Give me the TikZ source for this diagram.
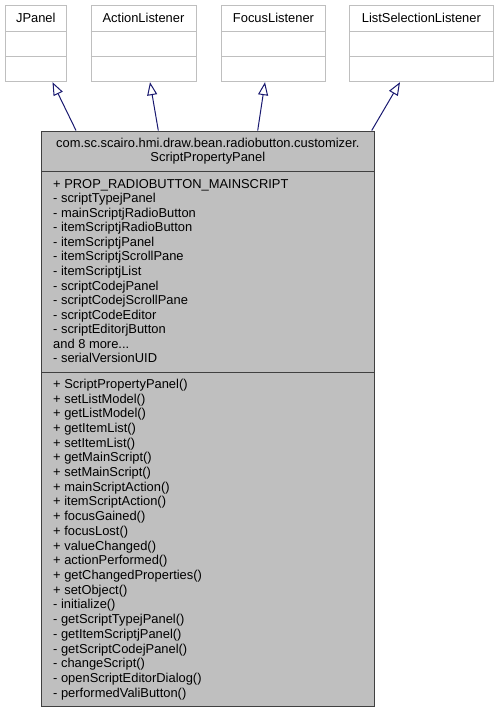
\documentclass[tikz,border=0pt]{standalone}
\usepackage{fontspec}
\setmainfont{Liberation Sans}
\usetikzlibrary{arrows.meta}
\definecolor{edgeblue}{HTML}{191970}
\definecolor{lightframe}{HTML}{BFBFBF}
\definecolor{classfill}{HTML}{BFBFBF}
\definecolor{darkframe}{HTML}{404040}
\newcommand\moredots{...}
\begin{document}
\begin{tikzpicture}[x=1pt,y=-1pt,
  topbox/.style={draw=lightframe, line width=1pt, fill=white, inner sep=0pt},
  mainbox/.style={draw=darkframe, line width=1pt, fill=classfill, inner sep=0pt},
  topsep/.style={draw=lightframe, line width=1pt},
  mainsep/.style={draw=darkframe, line width=1pt},
  lbl/.style={inner sep=0pt, font=\fontsize{12.9}{14.7}\selectfont},
  member/.style={lbl, anchor=base west},
  inherit/.style={draw=edgeblue, line width=1pt, -{Triangle[open, length=13pt, width=10pt]}}]
\useasboundingbox (0,0) rectangle (498,712);
\coordinate (s1) at (0,31.7);
\coordinate (s2) at (0,56.7);
\coordinate (b0) at (0,22);
% top classes
\node[topbox, minimum width=61pt, minimum height=76.4pt] (jpanel) at (35.8,43.5) {};
\node[topbox, minimum width=105pt, minimum height=76.4pt] (action) at (143.5,43.5) {};
\node[topbox, minimum width=103.6pt, minimum height=76.4pt] (focus) at (273.5,43.5) {};
\node[topbox, minimum width=143.3pt, minimum height=76.4pt] (lsl) at (421.35,43.5) {};
\foreach \n in {jpanel,action,focus,lsl}{
  \draw[topsep] (\n.west |- s1) -- (\n.east |- s1);
  \draw[topsep] (\n.west |- s2) -- (\n.east |- s2);
}
\node[lbl, anchor=base] (ljpanel) at (jpanel.north |- b0) {JPanel};
\node[lbl, anchor=base] (laction) at (action.north |- b0) {ActionListener};
\node[lbl, anchor=base] (lfocus) at (focus.north |- b0) {FocusListener};
\node[lbl, anchor=base] (llsl) at (lsl.north |- b0) {ListSelectionListener};
% main class
\node[mainbox, minimum width=332.3pt, minimum height=575pt] (main) at (207.85,418.5) {};
\coordinate (s3) at (0,171.7);
\coordinate (s4) at (0,372.3);
\draw[mainsep] (main.west |- s3) -- (main.east |- s3);
\draw[mainsep] (main.west |- s4) -- (main.east |- s4);
\node[lbl, anchor=base] (t1) at (207.85,147.7) {com.sc.scairo.hmi.draw.bean.radiobutton.customizer.};
\node[lbl, anchor=base] (t2) at (207.85,161.9) {ScriptPropertyPanel};
\foreach \t [count=\i from 0] in {+ PROP\_RADIOBUTTON\_MAINSCRIPT, - scriptTypejPanel, - mainScriptjRadioButton, - itemScriptjRadioButton, - itemScriptjPanel, - itemScriptjScrollPane, - itemScriptjList, - scriptCodejPanel, - scriptCodejScrollPane, - scriptCodeEditor, - scriptEditorjButton, and 8 more\moredots, - serialVersionUID}
  \node[member] (a\i) at (53,188+14.58*\i) {\t};
\foreach \t [count=\i from 0] in {+ ScriptPropertyPanel(), + setListModel(), + getListModel(), + getItemList(), + setItemList(), + getMainScript(), + setMainScript(), + mainScriptAction(), + itemScriptAction(), + focusGained(), + focusLost(), + valueChanged(), + actionPerformed(), + getChangedProperties(), + setObject(), - initialize(), - getScriptTypejPanel(), - getItemScriptjPanel(), - getScriptCodejPanel(), - changeScript(), - openScriptEditorDialog(), - performedValiButton()}
  \node[member] (m\i) at (53,388.3+14.71*\i) {\t};
% inheritance
\draw[inherit] ([xshift=-131.85pt]main.north) -- ([xshift=16.7pt]jpanel.south);
\draw[inherit] ([xshift=-49.55pt]main.north) -- ([xshift=6.5pt]action.south);
\draw[inherit] ([xshift=49.85pt]main.north) -- ([xshift=-8.5pt]focus.south);
\draw[inherit] ([xshift=163.85pt]main.north) -- ([xshift=-21.35pt]lsl.south);
\end{tikzpicture}
\end{document}
